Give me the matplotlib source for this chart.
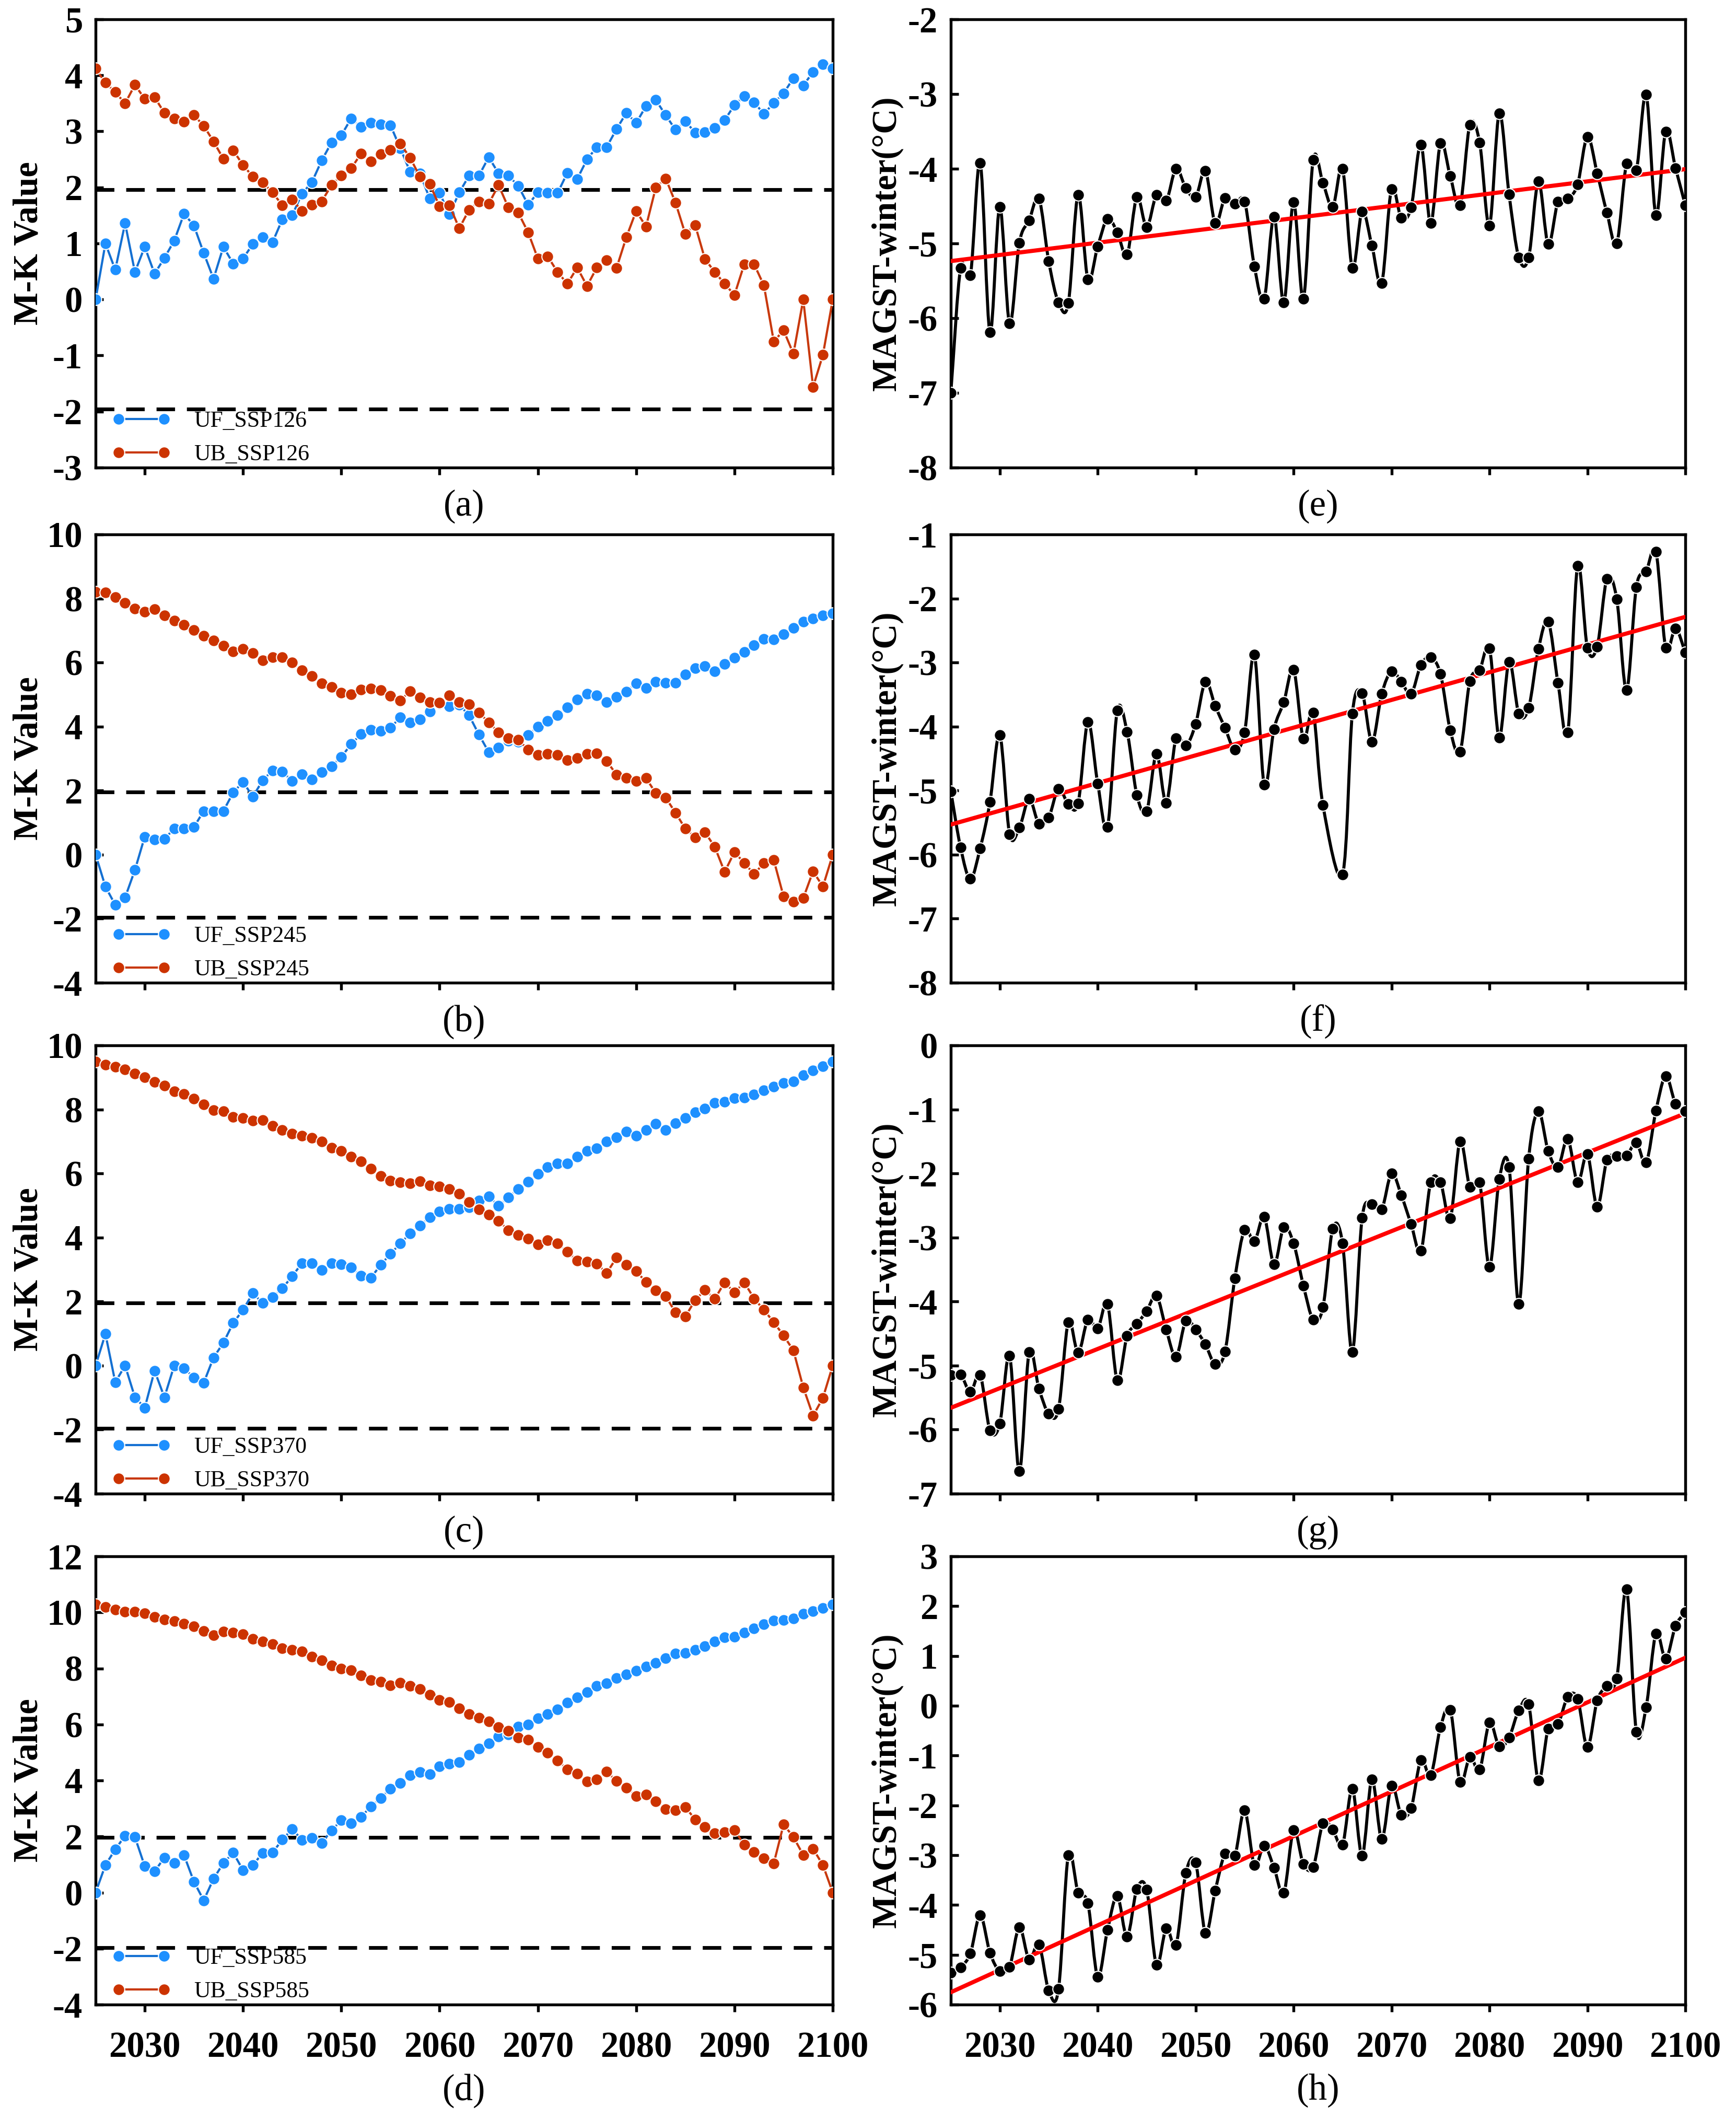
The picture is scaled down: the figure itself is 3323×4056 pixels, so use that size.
import numpy as np
import matplotlib
matplotlib.use("Agg")
import matplotlib.pyplot as plt
from matplotlib.path import Path
from matplotlib.patches import PathPatch

plt.rcParams['font.family'] = ['Liberation Serif', 'DejaVu Serif']
plt.rcParams['font.weight'] = 'bold'
plt.rcParams['axes.unicode_minus'] = False

years = np.arange(2025, 2101)

# M-K test, UF / UB statistics per scenario
uf126 = [0, 1.0, 0.53, 1.36, 0.49, 0.94, 0.46, 0.74, 1.05, 1.53,
         1.32, 0.83, 0.37, 0.94, 0.64, 0.73, 0.99, 1.11, 1.02, 1.43,
         1.50, 1.89, 2.09, 2.48, 2.80, 2.93, 3.23, 3.08, 3.15, 3.13,
         3.11, 2.70, 2.28, 2.25, 1.80, 1.90, 1.52, 1.91, 2.21, 2.21,
         2.54, 2.25, 2.21, 2.03, 1.69, 1.91, 1.90, 1.90, 2.26, 2.15,
         2.50, 2.72, 2.72, 3.04, 3.33, 3.15, 3.45, 3.56, 3.29, 3.03,
         3.18, 2.98, 2.99, 3.06, 3.20, 3.47, 3.63, 3.52, 3.31, 3.51,
         3.68, 3.95, 3.82, 4.06, 4.20, 4.12]
ub126 = [4.12, 3.87, 3.70, 3.50, 3.83, 3.58, 3.61, 3.33, 3.23, 3.17,
         3.29, 3.10, 2.82, 2.51, 2.66, 2.40, 2.19, 2.09, 1.91, 1.68,
         1.78, 1.58, 1.69, 1.75, 2.04, 2.21, 2.34, 2.60, 2.46, 2.59,
         2.67, 2.78, 2.53, 2.19, 2.06, 1.66, 1.68, 1.27, 1.60, 1.75,
         1.71, 2.04, 1.64, 1.55, 1.20, 0.73, 0.77, 0.49, 0.28, 0.57,
         0.24, 0.57, 0.70, 0.56, 1.11, 1.58, 1.30, 2.00, 2.16, 1.73,
         1.17, 1.33, 0.72, 0.49, 0.28, 0.08, 0.63, 0.63, 0.25, -0.75,
         -0.55, -0.97, 0, -1.56, -0.99, 0]

uf245 = [0, -1.0, -1.57, -1.34, -0.48, 0.56, 0.47, 0.49, 0.81, 0.81,
         0.86, 1.36, 1.36, 1.36, 1.94, 2.27, 1.81, 2.32, 2.63, 2.59,
         2.30, 2.51, 2.34, 2.58, 2.76, 3.05, 3.45, 3.76, 3.89, 3.87,
         3.96, 4.29, 4.12, 4.23, 4.47, 4.72, 4.63, 4.68, 4.35, 3.75,
         3.20, 3.35, 3.55, 3.53, 3.74, 3.99, 4.18, 4.35, 4.60, 4.85,
         5.03, 4.97, 4.77, 4.92, 5.09, 5.35, 5.20, 5.40, 5.37, 5.37,
         5.62, 5.82, 5.89, 5.73, 5.95, 6.15, 6.33, 6.54, 6.73, 6.72,
         6.88, 7.08, 7.27, 7.38, 7.47, 7.54]
ub245 = [8.21, 8.19, 8.05, 7.86, 7.68, 7.59, 7.66, 7.47, 7.30, 7.18,
         7.01, 6.83, 6.69, 6.53, 6.35, 6.43, 6.30, 6.07, 6.16, 6.16,
         6.00, 5.75, 5.58, 5.35, 5.23, 5.05, 5.00, 5.16, 5.19, 5.14,
         4.95, 4.81, 5.11, 4.91, 4.76, 4.75, 4.97, 4.77, 4.70, 4.44,
         4.13, 3.82, 3.64, 3.59, 3.28, 3.11, 3.14, 3.12, 2.95, 3.01,
         3.14, 3.17, 2.92, 2.50, 2.39, 2.30, 2.39, 1.92, 1.78, 1.31,
         0.81, 0.54, 0.70, 0.24, -0.54, 0.08, -0.26, -0.61, -0.26, -0.17,
         -1.31, -1.47, -1.36, -0.52, -1.0, 0]

uf370 = [0, 0.99, -0.52, 0, -0.99, -1.32, -0.16, -0.99, 0, -0.08,
         -0.38, -0.54, 0.25, 0.71, 1.33, 1.74, 2.26, 1.95, 2.14, 2.41,
         2.79, 3.20, 3.20, 2.99, 3.20, 3.17, 3.07, 2.81, 2.74, 3.14,
         3.49, 3.81, 4.13, 4.37, 4.63, 4.81, 4.89, 4.89, 4.94, 5.15,
         5.28, 4.99, 5.25, 5.52, 5.74, 5.98, 6.19, 6.31, 6.31, 6.52,
         6.70, 6.78, 7.00, 7.13, 7.30, 7.18, 7.36, 7.55, 7.36, 7.57,
         7.73, 7.91, 8.03, 8.20, 8.24, 8.35, 8.37, 8.46, 8.59, 8.71,
         8.82, 8.88, 9.07, 9.22, 9.35, 9.50]
ub370 = [9.50, 9.40, 9.33, 9.25, 9.12, 9.00, 8.85, 8.75, 8.57, 8.48,
         8.33, 8.15, 7.97, 7.94, 7.77, 7.73, 7.65, 7.67, 7.48, 7.36,
         7.25, 7.17, 7.11, 7.00, 6.81, 6.70, 6.53, 6.37, 6.15, 5.92,
         5.77, 5.73, 5.70, 5.76, 5.63, 5.60, 5.52, 5.36, 5.10, 4.88,
         4.71, 4.52, 4.23, 4.08, 3.97, 3.79, 3.92, 3.81, 3.55, 3.28,
         3.25, 3.18, 2.89, 3.37, 3.15, 2.95, 2.61, 2.35, 2.17, 1.66,
         1.53, 2.04, 2.36, 2.08, 2.60, 2.28, 2.60, 2.09, 1.74, 1.35,
         0.94, 0.47, -0.68, -1.57, -1.01, 0]

uf585 = [0, 0.98, 1.54, 2.03, 1.98, 0.94, 0.76, 1.24, 1.05, 1.33,
         0.39, -0.28, 0.49, 1.05, 1.42, 0.80, 0.98, 1.41, 1.42, 1.89,
         2.26, 1.88, 1.94, 1.77, 2.21, 2.58, 2.47, 2.69, 3.07, 3.36,
         3.71, 3.90, 4.18, 4.30, 4.23, 4.50, 4.60, 4.65, 4.92, 5.13,
         5.33, 5.56, 5.65, 5.92, 6.00, 6.22, 6.36, 6.54, 6.77, 6.96,
         7.16, 7.37, 7.47, 7.65, 7.78, 7.91, 8.07, 8.19, 8.37, 8.53,
         8.55, 8.66, 8.80, 8.96, 9.11, 9.12, 9.27, 9.42, 9.58, 9.71,
         9.72, 9.79, 9.95, 10.05, 10.16, 10.29]
ub585 = [10.29, 10.19, 10.09, 10.03, 10.03, 9.96, 9.84, 9.74, 9.68, 9.60,
         9.51, 9.34, 9.18, 9.31, 9.27, 9.22, 9.06, 8.96, 8.87, 8.72,
         8.67, 8.60, 8.42, 8.29, 8.11, 7.99, 7.93, 7.75, 7.58, 7.53,
         7.39, 7.49, 7.37, 7.26, 7.06, 6.88, 6.80, 6.58, 6.37, 6.24,
         6.10, 5.91, 5.77, 5.53, 5.45, 5.19, 4.99, 4.71, 4.39, 4.24,
         3.96, 4.04, 4.31, 3.98, 3.74, 3.44, 3.50, 3.26, 2.98, 2.94,
         3.05, 2.61, 2.34, 2.11, 2.15, 2.23, 1.70, 1.45, 1.22, 1.04,
         2.43, 1.98, 1.34, 1.56, 0.98, 0]

# winter mean annual ground surface temperature (degC)
magst126 = [-7.0, -5.33, -5.43, -3.92, -6.19, -4.51, -6.07, -4.99, -4.69, -4.40,
            -5.24, -5.79, -5.80, -4.35, -5.48, -5.04, -4.67, -4.85, -5.15, -4.38,
            -4.78, -4.35, -4.43, -4.00, -4.26, -4.38, -4.03, -4.73, -4.39, -4.47,
            -4.44, -5.31, -5.74, -4.64, -5.79, -4.45, -5.74, -3.88, -4.19, -4.51,
            -4.00, -5.33, -4.57, -5.03, -5.53, -4.27, -4.66, -4.52, -3.68, -4.73,
            -3.66, -4.10, -4.49, -3.41, -3.65, -4.76, -3.26, -4.34, -5.19, -5.19,
            -4.17, -5.01, -4.44, -4.40, -4.21, -3.57, -4.06, -4.59, -5.00, -3.93,
            -4.02, -3.01, -4.62, -3.50, -3.99, -4.49]
magst245 = [-5.01, -5.89, -6.38, -5.90, -5.18, -4.13, -5.68, -5.58, -5.13, -5.52,
            -5.42, -4.97, -5.21, -5.20, -3.93, -4.89, -5.57, -3.75, -4.08, -5.07,
            -5.32, -4.43, -5.19, -4.18, -4.30, -3.96, -3.30, -3.68, -4.02, -4.36,
            -4.09, -2.88, -4.91, -4.04, -3.62, -3.11, -4.19, -3.78, -5.23, np.nan,
            -6.31, -3.80, -3.48, -4.24, -3.49, -3.14, -3.30, -3.49, -3.04, -2.92,
            -3.18, -4.06, -4.39, -3.29, -3.12, -2.78, -4.17, -2.99, -3.80, -3.71,
            -2.79, -2.36, -3.32, -4.09, -1.49, -2.77, -2.75, -1.69, -2.01, -3.43,
            -1.82, -1.58, -1.27, -2.77, -2.47, -2.84]
magst370 = [-5.15, -5.14, -5.41, -5.15, -6.01, -5.91, -4.85, -6.65, -4.79, -5.36,
            -5.75, -5.68, -4.32, -4.80, -4.28, -4.42, -4.04, -5.23, -4.54, -4.35,
            -4.15, -3.91, -4.44, -4.86, -4.30, -4.44, -4.67, -4.98, -4.78, -3.64,
            -2.88, -3.06, -2.68, -3.42, -2.84, -3.09, -3.75, -4.28, -4.09, -2.86,
            -3.09, -4.79, -2.69, -2.48, -2.56, -2.00, -2.34, -2.79, -3.21, -2.14,
            -2.14, -2.70, -1.50, -2.21, -2.14, -3.46, -2.09, -1.90, -4.04, -1.77,
            -1.03, -1.65, -1.90, -1.46, -2.14, -1.70, -2.52, -1.79, -1.73, -1.72,
            -1.52, -1.83, -1.02, -0.48, -0.91, -1.03]
magst585 = [-5.36, -5.25, -4.97, -4.21, -4.96, -5.33, -5.24, -4.45, -5.10, -4.79,
            -5.72, -5.69, -3.00, -3.75, -3.97, -5.44, -4.50, -3.82, -4.64, -3.68,
            -3.69, -5.20, -4.47, -4.80, -3.36, -3.15, -4.56, -3.71, -2.97, -3.01,
            -2.10, -3.20, -2.81, -3.25, -3.76, -2.50, -3.18, -3.24, -2.36, -2.49,
            -2.79, -1.67, -3.01, -1.48, -2.68, -1.60, -2.19, -2.06, -1.09, -1.40,
            -0.43, -0.08, -1.53, -1.03, -1.28, -0.34, -0.82, -0.64, -0.09, 0.03,
            -1.50, -0.46, -0.37, 0.18, 0.14, -0.83, 0.10, 0.40, 0.55, 2.34,
            -0.52, -0.03, 1.45, 0.94, 1.60, 1.88]

scenarios = ["SSP126", "SSP245", "SSP370", "SSP585"]
uf_all = [uf126, uf245, uf370, uf585]
ub_all = [ub126, ub245, ub370, ub585]
magst_all = [magst126, magst245, magst370, magst585]
mk_ylims = [(-3, 5, 1), (-4, 10, 2), (-4, 10, 2), (-4, 12, 2)]
t_ylims = [(-8, -2), (-8, -1), (-7, 0), (-6, 3)]
left_letters = ["(a)", "(b)", "(c)", "(d)"]
right_letters = ["(e)", "(f)", "(g)", "(h)"]

blue_dot = "#1E90FF"
blue_line = "#1470D2"
red_dot = "#CC3300"
red_line = "#C8380C"

W, H = 3323, 4056
row_bottoms = [895, 1881, 2859, 3837]
ax_h = 858


def spline_patch(x, y, **kw):
    # smooth cubic curve through the points (Catmull-Rom as Bezier segments)
    x = np.asarray(x, float)
    y = np.asarray(y, float)
    ok = ~np.isnan(y)
    x = x[ok]
    y = y[ok]
    n = len(x)
    mx = np.empty(n)
    my = np.empty(n)
    mx[1:-1] = (x[2:] - x[:-2]) / 2
    my[1:-1] = (y[2:] - y[:-2]) / 2
    mx[0], my[0] = x[1] - x[0], y[1] - y[0]
    mx[-1], my[-1] = x[-1] - x[-2], y[-1] - y[-2]
    verts = [(x[0], y[0])]
    codes = [Path.MOVETO]
    for i in range(n - 1):
        verts += [(x[i] + mx[i] / 3, y[i] + my[i] / 3),
                  (x[i + 1] - mx[i + 1] / 3, y[i + 1] - my[i + 1] / 3),
                  (x[i + 1], y[i + 1])]
        codes += [Path.CURVE4] * 3
    return PathPatch(Path(verts, codes), fill=False, **kw)


def style_axis(ax, bottom_row):
    ax.set_xlim(2025, 2100)
    ax.set_xticks(range(2030, 2101, 10))
    for s in ax.spines.values():
        s.set_linewidth(1.3)
    ax.tick_params(axis='y', direction='in', length=3.6, width=1.3, labelsize=16.5, pad=6)
    ax.tick_params(axis='x', direction='out', length=3.4, width=1.3, labelsize=16.5, pad=9)
    if not bottom_row:
        ax.tick_params(labelbottom=False)


fig = plt.figure(figsize=(W / 300, H / 300), dpi=300)

for r in range(4):
    bottom = 1 - row_bottoms[r] / H
    height = ax_h / H
    last = (r == 3)
    label_y = -0.192 if last else -0.087

    # left: Mann-Kendall UF / UB curves
    ax = fig.add_axes([183 / W, bottom, 1411 / W, height])
    ax.axhline(1.96, color='black', lw=1.7, dashes=(5, 3.2), zorder=1)
    ax.axhline(-1.96, color='black', lw=1.7, dashes=(5, 3.2), zorder=1)
    ax.plot(years, uf_all[r], '-o', color=blue_line, lw=1.0, ms=5.4,
            mfc=blue_dot, mec='white', mew=0.5, label="UF_" + scenarios[r], zorder=3)
    ax.plot(years, ub_all[r], '-o', color=red_line, lw=1.0, ms=5.4,
            mfc=red_dot, mec='white', mew=0.5, label="UB_" + scenarios[r], zorder=3)
    lo, hi, step = mk_ylims[r]
    ax.set_ylim(lo, hi)
    ax.set_yticks(np.arange(lo, hi + 0.1, step))
    style_axis(ax, last)
    ax.set_ylabel("M-K Value", fontsize=16, fontweight='bold')
    ax.yaxis.set_label_coords(-0.069, 0.5)
    ax.legend(loc='lower left', bbox_to_anchor=(0.0, -0.03), frameon=False,
              numpoints=2, handlelength=2.6, handletextpad=1.0, labelspacing=0.55,
              borderpad=0.4, borderaxespad=0.3,
              prop={'family': 'Liberation Serif', 'weight': 'normal', 'size': 10.5})
    ax.text(0.5, label_y, left_letters[r], transform=ax.transAxes, ha='center',
            va='center', fontsize=17, fontweight='normal')

    # right: winter MAGST with linear trend
    ax2 = fig.add_axes([1820 / W, bottom, 1406 / W, height])
    yv = np.array(magst_all[r], dtype=float)
    ok = ~np.isnan(yv)
    ax2.add_patch(spline_patch(years, yv, edgecolor='black', lw=1.4, zorder=2))
    k, b = np.polyfit(years[ok], yv[ok], 1)
    ax2.plot([2025, 2100], [k * 2025 + b, k * 2100 + b], color='#FF0000', lw=1.9, zorder=3)
    ax2.plot(years, yv, 'o', ms=5.4, mfc='black', mec='white', mew=0.5, zorder=4)
    lo, hi = t_ylims[r]
    ax2.set_ylim(lo, hi)
    ax2.set_yticks(range(lo, hi + 1))
    style_axis(ax2, last)
    ax2.set_ylabel("MAGST-winter(°C)", fontsize=16, fontweight='bold')
    ax2.yaxis.set_label_coords(-0.065, 0.5)
    ax2.text(0.5, label_y, right_letters[r], transform=ax2.transAxes, ha='center',
             va='center', fontsize=17, fontweight='normal')

fig.savefig("out.png", dpi=300)
